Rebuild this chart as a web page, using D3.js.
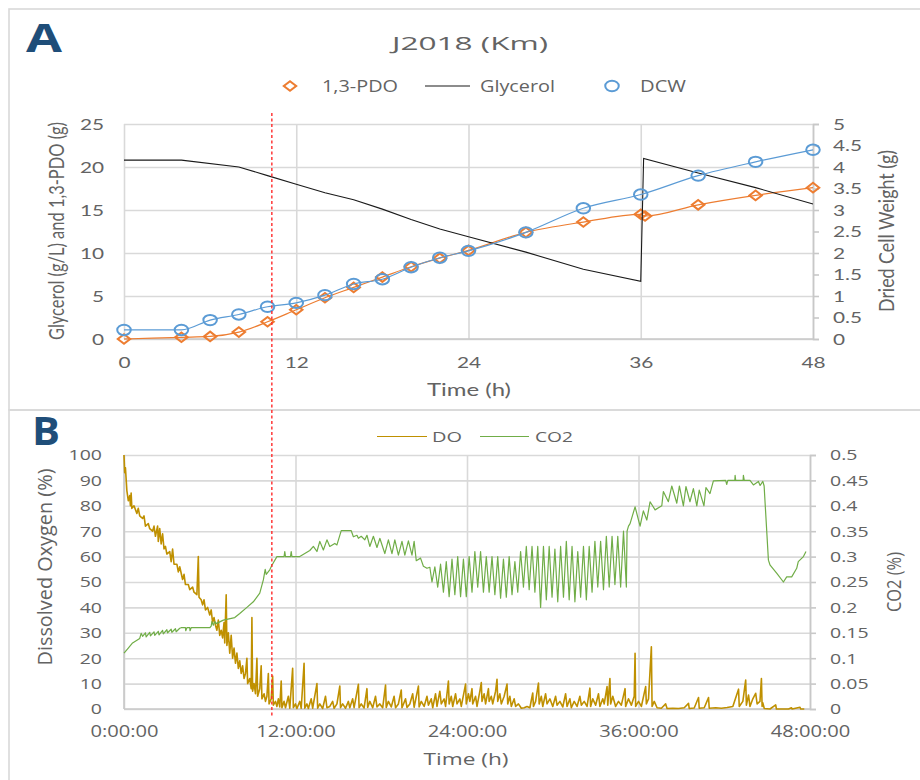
<!DOCTYPE html>
<html>
<head>
<meta charset="utf-8">
<style>
body { margin:0; background:#fff; }
text { fill:#636363; }
</style>
</head>
<body>
<svg id="chart"></svg>
<script src="https://d3js.org/d3.v7.min.js"></script>
<script>

// ---- panel A : fermentation samples ----
var glyHours = [0,4,8,10,12,14,16,18,20,22,24,28,32,36,36.2,40,44,48];
var glycerol = [20.8,20.8,20.0,19.0,18.0,17.0,16.2,15.1,13.9,12.8,11.9,10.1,8.1,6.7,21.0,19.3,17.6,15.7];

var pdoHours = [0,4,6,8,10,12,14,16,18,20,22,24,28,32,36,36.3,40,44,48];
var pdo = [0,0.2,0.3,0.8,2.0,3.4,4.8,6.0,7.2,8.4,9.4,10.3,12.4,13.6,14.5,14.3,15.6,16.7,17.6];

var dcwHours = [0,4,6,8,10,12,14,16,18,20,22,24,28,32,36,40,44,48];
var dcw = [0.21,0.21,0.44,0.57,0.75,0.84,1.02,1.28,1.39,1.67,1.89,2.05,2.48,3.04,3.36,3.80,4.12,4.40];

var hourTicks = [0,12,24,36,48];
var gramTicks = [0,5,10,15,20,25];
var dcwTicks = [0,0.5,1,1.5,2,2.5,3,3.5,4,4.5,5];

// ---- panel B : online probes, [hour, value] ----
var doSeries = [[0,100],[0.05,93],[0.1,95],[0.2,86],[0.3,82],[0.4,84],[0.45,80],[0.5,85],[0.55,79],[0.7,80],[0.9,77],[1.0,79],
 [1.1,76],[1.3,75],[1.4,76],[1.5,72],[1.7,73],[1.8,71],[2.0,70],[2.1,72],[2.2,68],[2.35,72],[2.4,66],[2.5,71],[2.6,65],[2.7,69],
 [2.8,63],[2.9,64],[3.0,61],[3.2,62],[3.3,58],[3.4,63],[3.5,57],[3.7,57],[3.8,54],[3.9,56],[4.1,51],[4.2,53],[4.3,49],[4.5,49],
 [4.6,47],[4.8,48],[4.9,46],[5.1,45],[5.2,60],[5.25,44],[5.4,43],[5.5,41],[5.6,43],[5.7,39],[5.85,40],[6.0,37],[6.1,39],[6.2,34],
 [6.3,36],[6.4,33],[6.5,31],[6.6,35],[6.7,29],[6.8,31],[6.9,28],[7.0,34],[7.05,26],[7.15,45],[7.2,25],[7.3,30],[7.4,22],[7.5,29],
 [7.6,20],[7.7,24],[7.8,18],[7.9,22],[8.0,16],[8.1,19],[8.2,14],[8.3,17],[8.4,12],[8.5,14],[8.6,20],[8.65,10],[8.8,12],[8.9,8],
 [8.95,36],[9.0,7],[9.1,10],[9.2,6],[9.3,20],[9.35,5],[9.5,8],[9.6,17],[9.65,4],[9.8,6],[9.9,3],[10.0,5],[10.1,14],[10.15,2],
 [10.3,4],[10.4,13],[10.45,1.5],[10.6,3],[10.7,1],[10.8,4],[10.9,0.8],[11.0,11],[11.05,0.5],[11.2,3],[11.3,0.5],[11.5,5],[11.6,0.3],
 [11.8,16],[11.85,0.5],[12.0,2],[12.1,0.2],[12.3,3],[12.4,0.3],[12.6,18],[12.65,0.3],[12.8,2],[12.9,0.2],[13.1,4],[13.2,0.3],
 [13.5,10],[13.55,0.3],[13.7,2],[13.9,0.2],[14.1,5],[14.2,0.5],[14.4,1],[14.6,3],[14.7,0.3],[14.9,2],[15.1,9],[15.15,0.5],[15.3,2],
 [15.5,0.3],[15.7,3],[15.8,0.5],[16.0,4],[16.1,0.5],[16.4,9.7],[16.45,0.5],[16.6,2],[16.8,0.4],[17.0,8],[17.05,0.6],[17.2,3],
 [17.4,0.5],[17.6,5],[17.7,0.8],[17.9,2],[18.1,0.5],[18.3,9.4],[18.35,0.6],[18.5,3],[18.7,0.8],[18.9,5],[19.0,0.5],[19.2,2],
 [19.4,7.5],[19.45,0.5],[19.7,4],[19.8,0.6],[20.0,2],[20.2,6],[20.3,0.7],[20.6,9],[20.65,0.8],[20.8,3],[21.0,1],[21.2,5],[21.3,1.5],
 [21.5,4],[21.6,0.5],[21.8,6],[21.9,1],[22.1,7],[22.2,2],[22.4,4],[22.5,1],[22.7,11],[22.75,2],[22.9,5],[23.0,1],[23.2,6],[23.3,2],
 [23.5,4],[23.6,1],[23.9,9.8],[23.95,2],[24.1,6],[24.2,3],[24.35,8],[24.4,2],[24.6,5],[24.7,1],[24.9,7],[25.0,10.4],[25.05,3],
 [25.2,6],[25.3,2],[25.5,8],[25.55,3],[25.7,5],[25.8,2],[26.0,7],[26.1,11.7],[26.15,3],[26.3,6],[26.4,2],[26.6,5],[26.8,9.8],
 [26.85,2],[27.0,5],[27.1,1],[27.3,4],[27.4,1],[27.6,2],[27.8,0.3],[28.0,0.5],[28.2,1],[28.4,0.5],[28.6,6.3],[28.65,1],[28.8,3],
 [29.0,10.2],[29.05,2],[29.2,5],[29.3,1],[29.5,6],[29.6,2],[29.8,4],[30.0,1],[30.2,5],[30.3,1.5],[30.5,3],[30.7,0.8],[30.9,6],
 [31.0,1],[31.2,4],[31.3,0.5],[31.5,3],[31.7,1],[31.9,5],[32.0,1.5],[32.2,3],[32.4,1],[32.6,8.2],[32.65,1],[32.8,4],[33.0,1.5],
 [33.2,6],[33.3,1],[33.5,4],[33.6,2],[33.8,8.8],[33.85,1.5],[34.0,12],[34.05,2],[34.2,5],[34.4,1],[34.6,3],[34.8,1.5],[35.06,8],
 [35.1,1],[35.3,4],[35.5,1.5],[35.7,5],[35.76,21.9],[35.8,1],[36.0,3],[36.2,1],[36.5,8.8],[36.55,2],[36.7,4],[36.9,24.5],[36.95,1],
 [37.1,3],[37.3,0.5],[37.6,0.3],[37.9,2],[38.0,0.2],[38.4,0.3],[38.8,0.2],[39.2,0.5],[39.5,2.2],[39.55,0.2],[39.9,0.4],[40.2,4.5],
 [40.25,0.3],[40.6,0.5],[40.9,4.5],[40.95,0.3],[41.4,0.5],[41.8,0.3],[42.2,0.6],[42.6,1],[43.0,7.8],[43.05,1],[43.3,3],[43.5,11.4],
 [43.55,1.5],[43.7,5.5],[43.8,1],[44.0,4],[44.2,6.2],[44.3,2],[44.5,3],[44.6,12],[44.65,1],[44.7,2.4],[44.8,0.2],[45.2,0],[45.6,1.6],
 [45.65,0],[46.5,0],[46.7,0.5],[46.75,0],[47.3,0.7],[47.35,0],[47.6,0]];

var co2Series = [[0,0.11],[0.3,0.12],[0.6,0.13],[1.1,0.139],[1.2,0.149],[1.3,0.143],[1.5,0.15],[1.55,0.142],[1.8,0.151],[1.85,0.144],
 [2.1,0.152],[2.15,0.145],[2.4,0.153],[2.45,0.146],[2.7,0.155],[2.75,0.148],[3.0,0.156],[3.05,0.15],[3.3,0.157],[3.35,0.151],
 [3.6,0.158],[3.65,0.152],[3.9,0.159],[4.0,0.16],[4.3,0.16],[4.32,0.154],[4.4,0.16],[4.6,0.16],[4.62,0.154],[4.7,0.16],[6.0,0.16],
 [6.1,0.163],[6.15,0.172],[6.25,0.165],[6.35,0.172],[6.45,0.168],[6.95,0.175],[7.75,0.18],[8.1,0.188],[8.6,0.20],[9.05,0.211],
 [9.5,0.228],[9.75,0.254],[9.88,0.275],[9.95,0.265],[10.2,0.274],[10.35,0.283],[10.7,0.30],[11.2,0.30],[11.25,0.31],[11.3,0.30],
 [11.65,0.30],[11.7,0.31],[11.75,0.30],[12.3,0.30],[13.0,0.312],[13.25,0.32],[13.5,0.31],[13.7,0.33],[13.95,0.313],[14.2,0.333],
 [14.4,0.32],[14.75,0.326],[14.9,0.323],[15.2,0.351],[15.9,0.351],[16.05,0.339],[16.3,0.342],[16.4,0.336],[16.6,0.34],[16.85,0.333],
 [17.0,0.342],[17.2,0.32],[17.45,0.34],[17.7,0.318],[17.9,0.336],[18.25,0.306],[18.5,0.333],[18.75,0.306],[18.95,0.333],[19.2,0.303],
 [19.45,0.33],[19.65,0.303],[19.9,0.331],[20.15,0.303],[20.3,0.33],[20.45,0.292],[20.75,0.297],[20.95,0.281],[21.2,0.277],[21.4,0.279],
 [21.55,0.25],[21.75,0.28],[21.95,0.24],[22.15,0.285],[22.35,0.23],[22.55,0.29],[22.75,0.221],[22.95,0.295],[23.15,0.225],[23.35,0.30],
 [23.55,0.221],[23.75,0.295],[23.95,0.221],[24.15,0.30],[24.35,0.23],[24.55,0.31],[24.75,0.24],[24.95,0.31],[25.15,0.23],[25.35,0.30],
 [25.55,0.23],[25.75,0.30],[25.95,0.225],[26.15,0.30],[26.35,0.218],[26.55,0.295],[26.75,0.22],[26.95,0.30],[27.15,0.225],[27.35,0.29],
 [27.55,0.23],[27.75,0.31],[27.95,0.24],[28.15,0.32],[28.35,0.235],[28.55,0.32],[28.75,0.23],[28.95,0.32],[29.15,0.20],[29.35,0.32],
 [29.55,0.215],[29.75,0.32],[29.95,0.22],[30.15,0.315],[30.35,0.211],[30.55,0.32],[30.75,0.22],[30.95,0.33],[31.15,0.215],[31.35,0.32],
 [31.55,0.211],[31.75,0.31],[31.95,0.22],[32.15,0.32],[32.35,0.215],[32.55,0.32],[32.75,0.23],[32.95,0.33],[33.15,0.24],[33.35,0.33],
 [33.55,0.235],[33.75,0.34],[33.95,0.24],[34.15,0.34],[34.35,0.245],[34.55,0.34],[34.75,0.24],[34.95,0.35],[35.15,0.24],[35.2,0.35],
 [35.3,0.36],[35.41,0.365],[35.76,0.398],[36.11,0.36],[36.34,0.39],[36.58,0.372],[36.81,0.408],[37.16,0.392],[37.63,0.40],[37.74,0.428],
 [38.09,0.408],[38.33,0.439],[38.68,0.405],[38.86,0.439],[39.14,0.40],[39.32,0.438],[39.6,0.408],[39.84,0.434],[40.08,0.40],[40.25,0.431],
 [40.58,0.40],[40.72,0.436],[41.0,0.424],[41.24,0.449],[42.1,0.45],[42.17,0.442],[42.25,0.45],[42.74,0.45],[42.76,0.46],[42.8,0.45],
 [43.32,0.45],[43.34,0.46],[43.4,0.45],[43.8,0.45],[44.04,0.441],[44.39,0.448],[44.51,0.44],[44.7,0.448],[44.79,0.439],[45.09,0.293],
 [45.21,0.283],[45.68,0.267],[46.14,0.25],[46.37,0.26],[46.72,0.26],[47.07,0.277],[47.18,0.29],[47.54,0.30],[47.72,0.31]];

var doTicks = [0,10,20,30,40,50,60,70,80,90,100];
var co2Ticks = [0,0.05,0.1,0.15,0.2,0.25,0.3,0.35,0.4,0.45,0.5];
var inductionHour = 10.3;

var svg = d3.select("#chart").attr("width",920).attr("height",780);
var sx = 1.3; // the reference picture is stretched sideways

var stretch = function(sel, k)
{
    sel.each(function()
    {
        var w = this.getComputedTextLength();
        d3.select(this).attr("textLength", w*k).attr("lengthAdjust","spacingAndGlyphs");
    });
}

var fitText = function(sel, w)
{
    sel.attr("textLength", w).attr("lengthAdjust","spacingAndGlyphs");
}

var styleGrid = function(g)
{
    g.select(".domain").remove();
    g.selectAll(".tick line").attr("stroke","#d9d9d9").attr("stroke-width",1.6);
}

// panel frames
svg.append("rect").attr("x",9).attr("y",9).attr("width",940).attr("height",401)
    .attr("fill","none").attr("stroke","#d9d9d9").attr("stroke-width",1.6);
svg.append("rect").attr("x",9).attr("y",410).attr("width",940).attr("height",400)
    .attr("fill","none").attr("stroke","#d9d9d9").attr("stroke-width",1.6);

var letter = function(txt, x, y, w)
{
    svg.append("text").text(txt).attr("x",x).attr("y",y)
        .style("font-family","Open Sans").style("font-weight","bold").style("font-size","40px")
        .style("fill","#1f4e79").call(fitText, w);
}
letter("A", 26, 52, 36);
letter("B", 32, 445, 28);

// ================= panel A =================
var xA = d3.scaleLinear().domain([0,48]).range([124,813]);
var yA = d3.scaleLinear().domain([0,25]).range([339,124]);
var yA2 = d3.scaleLinear().domain([0,5]).range([339,124]);

var gA = svg.append("g");

gA.append("g").attr("transform","translate(124,0)")
    .call(d3.axisLeft(yA).tickValues(gramTicks).tickSize(-689).tickPadding(20))
    .call(styleGrid)
    .selectAll("text").style("font-family","Lato").style("font-size","16px").call(stretch, sx);

gA.append("g").attr("transform","translate(0,339)")
    .call(d3.axisBottom(xA).tickValues(hourTicks).tickSize(-215).tickFormat(String))
    .call(styleGrid)
    .selectAll("text").attr("dy",null).attr("y",29)
    .style("font-family","Lato").style("font-size","16px").call(stretch, sx);

gA.append("line").attr("x1",124).attr("x2",813).attr("y1",339).attr("y2",339)
    .attr("stroke","#c8c8c8").attr("stroke-width",1.6);

gA.append("g").attr("transform","translate(813,0)")
    .call(d3.axisRight(yA2).tickValues(dcwTicks).tickSize(6).tickPadding(14).tickFormat(String))
    .call(function(g)
    {
        g.select(".domain").attr("stroke","#c8c8c8").attr("stroke-width",1.6);
        g.selectAll(".tick line").attr("stroke","#c8c8c8").attr("stroke-width",1.6);
    })
    .selectAll("text").style("font-family","Lato").style("font-size","16px").call(stretch, sx);

var pdoLine = d3.line().x(function(d,i){ return xA(pdoHours[i]); }).y(function(d){ return yA(d); })
    .curve(d3.curveMonotoneX);
var glyLine = d3.line().x(function(d,i){ return xA(glyHours[i]); }).y(function(d){ return yA(d); });
var dcwLine = d3.line().x(function(d,i){ return xA(dcwHours[i]); }).y(function(d){ return yA2(d); })
    .curve(d3.curveMonotoneX);

var diamond = d3.symbol().type(d3.symbolSquare).size(46);

gA.append("path").attr("d",pdoLine(pdo)).attr("fill","none").attr("stroke","#ed7d31").attr("stroke-width",1.2);
gA.selectAll(".pdo").data(pdo).enter().append("path").classed("pdo",true)
    .attr("d",diamond)
    .attr("transform",function(d,i){ return "translate("+xA(pdoHours[i])+","+yA(d)+") scale("+sx+",1) rotate(45)"; })
    .attr("fill","none").attr("stroke","#ed7d31").attr("stroke-width",1.8);

gA.append("path").attr("d",glyLine(glycerol)).attr("fill","none").attr("stroke","#1a1a1a").attr("stroke-width",1.1);

gA.append("path").attr("d",dcwLine(dcw)).attr("fill","none").attr("stroke","#5b9bd5").attr("stroke-width",1.2);
gA.selectAll(".dcw").data(dcw).enter().append("ellipse").classed("dcw",true)
    .attr("cx",function(d,i){ return xA(dcwHours[i]); })
    .attr("cy",function(d){ return yA2(d); })
    .attr("rx",5.2*sx).attr("ry",5.2)
    .attr("fill","none").attr("stroke","#5b9bd5").attr("stroke-width",2);

// titles and legend
svg.append("text").text("J2018 (Km)").attr("x",470).attr("y",50).attr("text-anchor","middle")
    .style("font-family","Open Sans").style("font-size","19px").call(fitText, 156);

var legA = svg.append("g").style("font-family","Open Sans").style("font-size","15.5px");
legA.append("path").attr("d",diamond)
    .attr("transform","translate(290,86) scale("+sx+",1) rotate(45)")
    .attr("fill","none").attr("stroke","#ed7d31").attr("stroke-width",1.8);
legA.append("text").text("1,3-PDO").attr("x",322).attr("y",92).call(fitText, 76);
legA.append("line").attr("x1",425).attr("x2",470).attr("y1",86).attr("y2",86)
    .attr("stroke","#1a1a1a").attr("stroke-width",1.1);
legA.append("text").text("Glycerol").attr("x",480).attr("y",92).call(fitText, 75);
legA.append("ellipse").attr("cx",612).attr("cy",86).attr("rx",5.2*sx).attr("ry",5.2)
    .attr("fill","none").attr("stroke","#5b9bd5").attr("stroke-width",2);
legA.append("text").text("DCW").attr("x",640).attr("y",92).call(fitText, 46);

svg.append("text").text("Time (h)").attr("x",469).attr("y",396).attr("text-anchor","middle")
    .style("font-family","Lato").style("font-size","16.5px").call(fitText, 84);

var vTitle = function(txt, x, y, len, font)
{
    svg.append("text").text(txt)
        .attr("transform","translate("+x+","+y+") scale("+sx+",1) rotate(-90)")
        .attr("text-anchor","middle").attr("dy","0.35em")
        .style("font-family",font).style("font-size","16px").call(fitText, len);
}
vTitle("Glycerol (g/L) and 1,3-PDO (g)", 57, 231, 218, "Lato");
vTitle("Dried Cell Weight (g)", 887, 231, 162, "Lato");

// ================= panel B =================
var xB = d3.scaleLinear().domain([0,48]).range([124,810]);
var yB = d3.scaleLinear().domain([0,100]).range([709,455]);
var yB2 = d3.scaleLinear().domain([0,0.5]).range([709,455]);

var gB = svg.append("g");

gB.append("g").attr("transform","translate(124,0)")
    .call(d3.axisLeft(yB).tickValues(doTicks).tickSize(-686).tickPadding(22))
    .call(styleGrid)
    .selectAll("text").style("font-family","Open Sans").style("font-size","15px").call(stretch, sx);

gB.append("g").attr("transform","translate(0,709)")
    .call(d3.axisBottom(xB).tickValues(hourTicks).tickSize(-254)
        .tickFormat(function(d){ return d + ":00:00"; }))
    .call(styleGrid)
    .selectAll("text").attr("dy",null).attr("y",28)
    .style("font-family","Open Sans").style("font-size","15.5px").call(stretch, sx);

gB.append("line").attr("x1",124).attr("x2",810).attr("y1",709).attr("y2",709)
    .attr("stroke","#c8c8c8").attr("stroke-width",1.6);
gB.append("line").attr("x1",124).attr("x2",124).attr("y1",455).attr("y2",709)
    .attr("stroke","#c8c8c8").attr("stroke-width",1.6);

gB.append("g").attr("transform","translate(810,0)")
    .call(d3.axisRight(yB2).tickValues(co2Ticks).tickSize(6).tickPadding(14).tickFormat(String))
    .call(function(g)
    {
        g.select(".domain").attr("stroke","#c8c8c8").attr("stroke-width",1.6);
        g.selectAll(".tick line").attr("stroke","#c8c8c8").attr("stroke-width",1.6);
    })
    .selectAll("text").style("font-family","Open Sans").style("font-size","15px").call(stretch, sx);

var doLine = d3.line().x(function(d){ return xB(d[0]); }).y(function(d){ return yB(d[1]); });
var co2Line = d3.line().x(function(d){ return xB(d[0]); }).y(function(d){ return yB2(d[1]); });

gB.append("path").attr("d",doLine(doSeries)).attr("fill","none")
    .attr("stroke","#bf9000").attr("stroke-width",1.6).attr("stroke-linejoin","round");
gB.append("path").attr("d",co2Line(co2Series)).attr("fill","none")
    .attr("stroke","#70ad47").attr("stroke-width",1.2).attr("stroke-linejoin","round");

var legB = svg.append("g").style("font-family","Open Sans").style("font-size","15px");
legB.append("line").attr("x1",377).attr("x2",427).attr("y1",436.5).attr("y2",436.5)
    .attr("stroke","#bf9000").attr("stroke-width",1.2);
legB.append("text").text("DO").attr("x",432).attr("y",442).call(fitText, 30);
legB.append("line").attr("x1",480).attr("x2",529).attr("y1",436.5).attr("y2",436.5)
    .attr("stroke","#70ad47").attr("stroke-width",1.2);
legB.append("text").text("CO2").attr("x",535).attr("y",442).call(fitText, 38);

svg.append("text").text("Time (h)").attr("x",466).attr("y",765).attr("text-anchor","middle")
    .style("font-family","Open Sans").style("font-size","16px").call(fitText, 85);

vTitle("Dissolved Oxygen (%)", 45, 567, 197, "Open Sans");
vTitle("CO2 (%)", 894, 582, 60, "Open Sans");

// induction marker across both panels
svg.append("line").attr("x1",xA(inductionHour)).attr("x2",xA(inductionHour))
    .attr("y1",113).attr("y2",717)
    .attr("stroke","#ff2a2a").attr("stroke-width",1.4).attr("stroke-dasharray","3,2.5");

</script>
</body>
</html>
